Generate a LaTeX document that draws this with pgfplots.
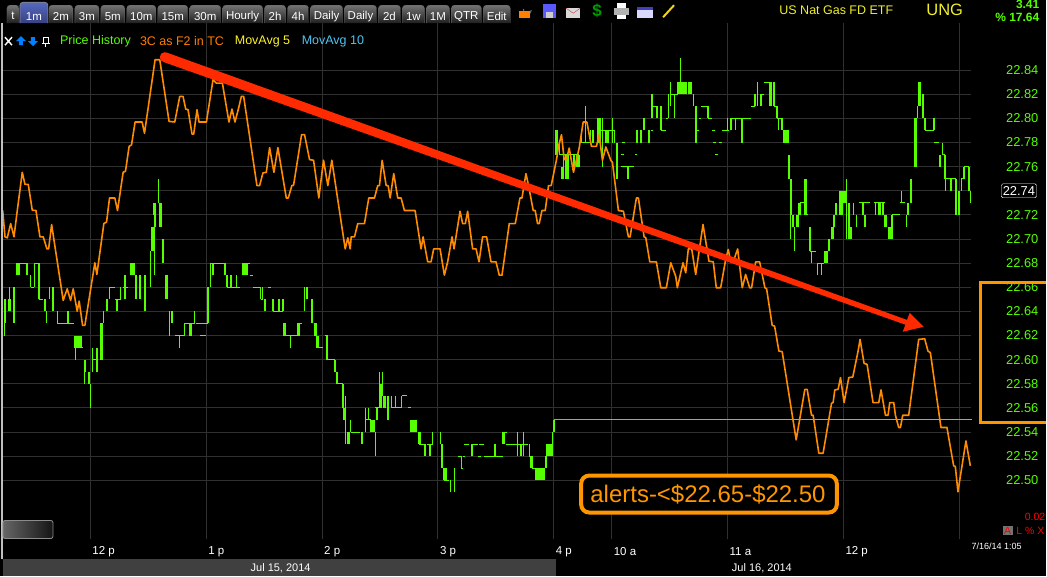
\documentclass[border=0pt]{standalone}
\usepackage{pgfplots}
\usepackage{pgfplotstable}
\usepackage{fontspec}
\setmainfont{Liberation Sans}
\pgfplotsset{compat=1.18}
\definecolor{pgreen}{RGB}{85,255,0}
\definecolor{porange}{RGB}{255,140,0}
\definecolor{boxorange}{RGB}{255,150,0}
\definecolor{pred}{RGB}{255,42,0}
\definecolor{pteal}{RGB}{60,205,210}
\definecolor{gridc}{RGB}{48,48,48}
\definecolor{pyellow}{RGB}{240,240,40}
\newcommand{\fs}[1]{\fontsize{#1}{#1}\selectfont}
\pgfplotstableread{
x v
2.7 22.7236
5 22.7018
7.3 22.7010
10.7 22.7128
14 22.7018
17.3 22.7236
22.3 22.7553
25 22.7453
28.3 22.7453
32.3 22.7239
36 22.7236
40 22.7018
43.3 22.7018
47 22.6918
48.7 22.6918
51.7 22.7120
55 22.694
63.3 22.6491
67.3 22.6587
70.7 22.6491
73.3 22.6587
77.3 22.6402
79.3 22.6485
82.7 22.6284
85 22.6284
95 22.6803
97 22.6706
104 22.7128
106.7 22.7140
109.7 22.734
115 22.734
117.7 22.7236
123.3 22.7553
125.7 22.7563
129.3 22.7768
131.7 22.778
135.3 22.797
142.3 22.797
144.7 22.7877
155.3 22.8486
160 22.8486
169.3 22.7975
175 22.797
180 22.8182
183.3 22.8182
186 22.8077
188.3 22.8072
192.3 22.787
194 22.787
197.3 22.8072
199.3 22.797
206.7 22.797
213.3 22.832
216.7 22.8292
222.7 22.8292
229.3 22.797
232.3 22.8077
235.3 22.797
238.7 22.8077
241.7 22.8182
244 22.8182
257.3 22.7443
260 22.7443
263.3 22.7548
266.7 22.7553
270 22.7758
274.3 22.7553
278.3 22.7758
286.7 22.734
288.7 22.734
292.3 22.7443
294 22.7446
302 22.7865
305 22.7865
310 22.7658
314 22.7653
319.3 22.734
324 22.7653
328.3 22.7443
332.3 22.7653
345.7 22.6918
348.3 22.701
350.7 22.6918
351.7 22.7018
355 22.7018
358.3 22.7128
365 22.7128
369.3 22.734
375 22.734
378.3 22.7443
380 22.7443
382.7 22.7652
386.7 22.7443
388.7 22.7443
390.7 22.734
394.3 22.7542
398.3 22.734
401.7 22.734
405 22.7236
415.7 22.7236
421.7 22.6918
423.7 22.7018
428.3 22.6811
431.7 22.6811
434.3 22.6918
440.7 22.6918
445 22.67
448.3 22.6811
452.7 22.7018
454.7 22.6918
460.7 22.723
463.3 22.7128
466 22.7128
468.3 22.723
473.3 22.6918
476.7 22.6918
479.7 22.6811
483.3 22.7018
487.3 22.7018
491.7 22.6811
496.7 22.6811
500 22.67
502.7 22.67
510 22.7128
516 22.7128
520.7 22.734
522.7 22.734
526.7 22.7542
529.3 22.7443
534 22.7236
536 22.7236
538.3 22.7128
540 22.7128
542.7 22.7236
546 22.7236
549.3 22.7443
552 22.7443
557.3 22.7658
559.3 22.7768
562.3 22.7865
565 22.7658
567.3 22.7658
570 22.7754
574.3 22.7553
580 22.7754
584 22.797
587.7 22.797
592.3 22.7768
597.3 22.7768
600 22.7865
603.3 22.7652
606.7 22.7763
611.7 22.7652
613.3 22.7636
619.3 22.7236
624.3 22.723
629.3 22.7018
631 22.7018
637.3 22.734
639.3 22.734
645 22.7018
646.7 22.701
650.7 22.6811
657.3 22.6811
661.7 22.6596
667.3 22.6596
671.7 22.6803
676.7 22.669
678.3 22.6596
684 22.6803
686.7 22.672
689.3 22.6918
692.7 22.6918
696.7 22.6706
704 22.712
710 22.6816
714.3 22.6811
717.3 22.6596
721.7 22.6596
726.7 22.683
729.3 22.6913
731.7 22.6811
735 22.683
738.7 22.6918
743.3 22.6596
746.7 22.6706
750.7 22.6596
752.7 22.6596
756.7 22.6811
760.7 22.6811
766 22.6596
767.7 22.6587
773.3 22.6284
775.7 22.6278
780 22.6071
783.3 22.6066
797.3 22.5335
806 22.5754
808.3 22.5754
812.7 22.5539
814.3 22.5539
820 22.5224
824.3 22.5224
832.7 22.5638
834.3 22.5644
836 22.5749
839.3 22.5754
841.7 22.5851
845.3 22.5644
850 22.5851
854 22.5856
859.3 22.6071
861.3 22.6168
865.3 22.5969
868.3 22.5961
874.3 22.5644
880 22.5644
882.3 22.5749
886.7 22.5539
889.3 22.5539
891 22.5644
895 22.5644
896.7 22.5539
900 22.5437
901.7 22.5437
904 22.5539
910 22.5539
920 22.6168
926 22.6173
929.3 22.6071
931.7 22.6058
942.3 22.5437
948.3 22.5437
955 22.512
956.7 22.5114
959.3 22.4904
967.3 22.5326
971.7 22.512
}\orangeT
\pgfplotstableread{
x lo hi
5 22.62 22.65
9.5 22.64 22.66
30.7 22.66 22.67
34.3 22.66 22.68
46.7 22.63 22.64
49.3 22.65 22.66
57.3 22.63 22.64
75.7 22.60 22.61
85 22.58 22.59
90.3 22.56 22.58
92.7 22.59 22.61
104 22.63 22.64
109.3 22.65 22.66
120.7 22.65 22.66
150.7 22.66 22.69
154.3 22.67 22.73
158.3 22.73 22.75
169.3 22.62 22.64
179.3 22.61 22.62
184.3 22.62 22.63
195 22.63 22.64
210.7 22.66 22.68
237.3 22.66 22.67
261 22.65 22.66
262.7 22.65 22.66
290.7 22.61 22.62
305 22.64 22.66
345.7 22.53 22.57
351 22.54 22.55
366 22.54 22.56
369.3 22.55 22.56
375.7 22.52 22.54
380 22.56 22.59
382.7 22.57 22.59
391.7 22.56 22.57
396 22.56 22.57
402.3 22.56 22.57
433.3 22.53 22.54
441 22.53 22.54
450.7 22.49 22.50
455 22.49 22.51
461.7 22.51 22.52
518.3 22.52 22.54
524 22.52 22.54
530 22.52 22.53
553.3 22.52 22.54
560 22.77 22.78
564.5 22.75 22.77
582.7 22.78 22.79
586.7 22.78 22.81
591.7 22.78 22.79
603.3 22.76 22.80
613.3 22.78 22.80
615.3 22.78 22.79
669.3 22.80 22.82
671.7 22.81 22.83
675 22.80 22.82
681.3 22.83 22.85
694 22.81 22.82
729 22.79 22.80
736.7 22.79 22.80
758.7 22.81 22.83
780 22.79 22.80
791.7 22.70 22.72
795.7 22.69 22.71
812.3 22.68 22.69
818.3 22.67 22.68
822.3 22.67 22.68
847.3 22.70 22.75
854.7 22.72 22.73
857.7 22.71 22.72
876.7 22.72 22.73
881.7 22.72 22.73
902.7 22.73 22.74
907.3 22.71 22.72
918.7 22.80 22.81
920 22.81 22.83
943.7 22.77 22.78
946.7 22.74 22.75
962.7 22.74 22.75
971.7 22.73 22.74
}\greenThin
\pgfplotstableread{
x lo hi
5 22.63 22.65
9.5 22.64 22.65
14 22.63 22.66
17 22.67 22.68
19 22.67 22.68
27 22.67 22.68
38.7 22.65 22.68
45 22.64 22.65
53.3 22.64 22.66
68.3 22.63 22.64
75.5 22.61 22.62
77.5 22.61 22.62
79.5 22.61 22.62
81.5 22.61 22.62
85 22.59 22.60
89.3 22.58 22.59
97.3 22.59 22.61
101.7 22.60 22.63
107.3 22.64 22.65
117.3 22.64 22.65
125.3 22.65 22.67
131.7 22.67 22.68
134.3 22.67 22.68
136 22.65 22.67
140 22.65 22.67
145 22.64 22.67
152.7 22.69 22.71
155 22.71 22.72
154.7 22.72 22.73
160.7 22.71 22.73
163.3 22.68 22.70
166.7 22.65 22.67
172 22.63 22.64
190.7 22.62 22.63
208.3 22.63 22.66
213.3 22.67 22.68
225.3 22.67 22.68
227.3 22.66 22.67
231.7 22.66 22.67
243.3 22.67 22.68
245.3 22.67 22.68
247.3 22.67 22.68
265.7 22.64 22.65
273.3 22.64 22.65
279.3 22.64 22.65
283.3 22.64 22.65
285 22.62 22.63
299 22.62 22.63
307.3 22.65 22.66
312.3 22.63 22.65
316 22.62 22.63
318 22.61 22.62
327.3 22.60 22.62
335.3 22.59 22.60
337.3 22.58 22.59
343.3 22.56 22.58
345 22.55 22.56
349 22.53 22.54
362.3 22.53 22.54
372 22.54 22.55
374 22.54 22.55
377.3 22.55 22.56
381 22.56 22.58
385 22.56 22.57
388.3 22.55 22.57
412 22.54 22.55
414 22.54 22.55
416 22.54 22.55
420 22.53 22.54
425.7 22.52 22.53
430.7 22.52 22.53
442.7 22.51 22.53
445 22.50 22.51
447 22.50 22.51
472.7 22.52 22.53
495.7 22.52 22.53
504.3 22.53 22.54
521.7 22.52 22.53
532.3 22.51 22.52
537 22.50 22.51
539 22.50 22.51
541 22.50 22.51
543 22.50 22.51
545 22.50 22.51
546.7 22.51 22.52
548 22.52 22.53
550 22.52 22.53
551.7 22.52 22.53
555 22.54 22.55
557.3 22.77 22.79
563.3 22.75 22.76
567.3 22.75 22.77
569 22.75 22.77
575 22.76 22.77
578 22.76 22.77
580 22.76 22.77
594 22.78 22.79
599.3 22.78 22.80
601 22.78 22.80
606.7 22.78 22.79
608.5 22.78 22.79
618 22.75 22.78
629 22.75 22.76
637.7 22.78 22.79
641.7 22.78 22.79
645 22.79 22.80
650 22.78 22.79
652.7 22.80 22.82
658.3 22.80 22.81
661.7 22.79 22.81
679 22.82 22.83
681 22.82 22.83
683 22.82 22.83
685 22.82 22.83
687 22.82 22.83
690 22.82 22.83
692 22.82 22.83
696.7 22.78 22.81
709 22.80 22.81
731.7 22.79 22.80
743.3 22.78 22.80
756 22.81 22.82
762 22.81 22.82
770.7 22.81 22.83
772 22.81 22.83
775 22.81 22.83
778.3 22.80 22.81
783.3 22.79 22.80
785.3 22.78 22.79
787 22.78 22.79
789 22.78 22.79
790 22.75 22.77
792 22.72 22.75
794 22.71 22.72
798.7 22.71 22.72
800.7 22.72 22.73
806 22.72 22.75
807.5 22.72 22.75
811 22.69 22.71
826.7 22.68 22.69
828 22.68 22.69
830 22.69 22.70
833.7 22.70 22.71
835.3 22.71 22.72
837.3 22.72 22.73
841 22.72 22.74
843.3 22.72 22.74
845.7 22.73 22.74
850 22.70 22.73
852 22.70 22.71
864 22.72 22.73
866 22.71 22.72
880 22.72 22.73
884 22.72 22.73
886.7 22.71 22.72
890 22.70 22.71
892 22.70 22.71
893.3 22.70 22.72
909.3 22.72 22.73
912.3 22.73 22.75
916.7 22.76 22.80
921.7 22.81 22.83
924.3 22.80 22.82
926.7 22.79 22.80
935 22.79 22.80
941 22.76 22.77
946.7 22.75 22.77
952.7 22.74 22.75
957.7 22.72 22.75
960.7 22.72 22.74
965 22.75 22.76
970.7 22.74 22.76
}\greenThick
\pgfplotstableread{
x p w
30.7 22.66 3.6
16.7 22.68 11.6
34.3 22.68 5.7
38.7 22.65 4.6
57.3 22.63 16.7
75 22.61 8
92.7 22.60 4.6
109.3 22.66 5.7
115 22.65 5.7
123.3 22.66 4.4
130.7 22.68 3.6
175 22.62 9.3
184.3 22.63 10.7
196.7 22.63 11.3
200 22.62 6
210.7 22.68 14.6
227.3 22.66 13.4
243 22.68 7
250 22.67 3
253.3 22.66 6.7
261 22.65 2
268.3 22.66 3.4
273 22.64 10
285 22.62 14
299 22.63 3
317.7 22.61 5.6
325 22.62 3
327.3 22.60 7.7
338 22.58 5
351 22.54 9.7
366 22.55 6
375.7 22.56 4.3
391.7 22.56 10
402.3 22.57 5
408.3 22.56 3.4
420 22.53 5.7
428 22.53 5.3
445 22.50 5
461.7 22.51 1.6
458.3 22.52 3.4
463.3 22.52 2.7
465 22.53 5
473.3 22.53 5
480 22.53 5
478.3 22.52 3.4
485 22.52 18.3
504.3 22.54 3.4
506.7 22.53 21.6
530 22.52 2.3
532.3 22.51 4.7
560 22.77 20
582.7 22.78 9
601.7 22.79 13.6
621.7 22.76 13.3
623 22.78 3
622 22.77 3
636 22.77 2
651.7 22.79 2.3
652.7 22.81 5.6
661.7 22.79 5
666.7 22.80 2.6
671.7 22.82 7.3
698.3 22.79 1.7
700 22.80 2
701.7 22.81 8.3
709 22.80 4.3
713.3 22.79 2.7
723.3 22.79 6.7
714.3 22.78 3
719.7 22.78 3
716 22.77 3
731.7 22.80 20
751.7 22.81 4.3
762 22.82 3
765 22.83 5.7
775 22.81 3.3
778.3 22.80 5
800.7 22.73 4.3
806.7 22.72 2.6
811 22.69 6.3
818.3 22.68 6.7
893.3 22.72 8.4
901.7 22.73 5
915 22.76 2.3
926.7 22.79 8.3
935 22.78 5
943.7 22.77 3
965 22.76 5
860.3 22.73 11.4
875 22.73 11.7
952.7 22.75 5
946.7 22.75 6
962.7 22.75 2.3
}\greenH
\pgfplotstableread{
x v
555 22.55
973 22.55
}\tealT
\begin{document}
\begin{tikzpicture}
\fill[black] (0,0) rectangle (1047pt,577pt);
\fill[black!75!white] (3pt,0) rectangle (557pt,17pt);
\begin{axis}[
  at={(3pt,37pt)}, anchor=south west,
  scale only axis, width=969pt, height=517pt,
  xmin=3, xmax=972, ymin=22.4509, ymax=22.8789,
  axis line style={draw=none},
  major tick length=0pt,
  tick style={draw=none},
  grid=major, grid style={draw=gridc, line width=0.8pt},
  xtick={90.4,206.5,322.5,438.5,554.5,612.5,728.5,844.5,960.5},
  xticklabels={12 p,1 p,2 p,3 p,4 p,10 a,11 a,12 p,{}},
  xticklabel style={white, font=\fs{11.5}, anchor=west, yshift=-12pt, inner xsep=2pt},
  ytick={22.50,22.52,22.54,22.56,22.58,22.60,22.62,22.64,22.66,22.68,22.70,22.72,22.76,22.78,22.80,22.82,22.84},
  extra y ticks={22.74},
  extra y tick style={yticklabel style={text=white, draw=white, fill=black, rounded corners=1.5pt, inner xsep=1.5pt, inner ysep=2.5pt, xshift=-1.5pt}},
  yticklabel pos=right,
  yticklabel style={text=pgreen, font=\fs{12.9}, anchor=west, xshift=32pt},
  /pgf/number format/.cd, fixed, fixed zerofill, precision=2, assume math mode=true,
  /pgfplots/.cd,
  clip=false,
]
\addplot[pteal, line width=1pt] table[x=x,y=v] {\tealT};
\addplot[only marks, mark=none, mark size=0pt, forget plot, error bars/.cd, y dir=plus, y explicit, error mark=none, error bar style={draw=pgreen, line width=1pt}]
  table[x=x, y=lo, y error expr=\thisrow{hi}-\thisrow{lo}] {\greenThin};
\addplot[only marks, mark=none, mark size=0pt, forget plot, error bars/.cd, y dir=plus, y explicit, error mark=none, error bar style={draw=pgreen, line width=2.2pt}]
  table[x=x, y=lo, y error expr=\thisrow{hi}-\thisrow{lo}] {\greenThick};
\addplot[only marks, mark=none, mark size=0pt, forget plot, error bars/.cd, x dir=plus, x explicit, error mark=none, error bar style={draw=pgreen, line width=1pt}]
  table[x=x, y=p, x error=w] {\greenH};
\addplot[porange, line width=1.6pt, line join=round] table[x=x,y=v] {\orangeT};
\end{axis}
\begin{scope}[x=1pt,y=-1pt,yshift=577pt]
  % left edge
  \draw[white!75!black, line width=1.2pt] (2,23) -- (2,560);
  % red arrow
  \fill[pred] (166.7,52.3) -- (908.3,320.1) -- (911,313) -- (925,327) -- (904,332) -- (906.7,324.9) -- (163.3,61.7) -- cycle;
  \fill[pred] (165,57) circle (5);
  % orange boxes
  \draw[boxorange, line width=3pt] (1047,282.5) -- (981.5,282.5) -- (981.5,423) -- (1047,423);
  \draw[boxorange, line width=4pt, rounded corners=8pt, fill=black] (582,476) rectangle (838,513);
  \node[text=boxorange, font=\fs{24}, anchor=center] at (709,494.5) {alerts-<\$22.65-\$22.50};
  % toolbar tabs
  \foreach \a/\b/\t in {7/19/t,49/73/2m,75/99/3m,101/125/5m,127/156/10m,158/188/15m,190/221/30m,223/263/Hourly,265/286/2h,288/309/4h,311/343/Daily,345/377/Daily,379/401/2d,403/425/1w,427/450/1M,452/482/QTR,484/511/Edit}{
    \path[rounded corners=3pt, top color=black!55!white, bottom color=black!88!white, draw=black!60!white, line width=0.3pt]
      (\a,23) -- (\a,5) -- (\b,5) -- (\b,23);
    \node[white, font=\fs{11.5}] at ({(\a+\b)/2},16) {\t};
  }
  \path[rounded corners=3pt, top color={rgb,255:red,85;green,105;blue,190}, bottom color={rgb,255:red,55;green,65;blue,130}, draw=black!45!white, line width=0.6pt]
    (20,23) -- (20,2) -- (48,2) -- (48,23);
  \node[white, font=\fs{11.5}] at (34,16) {1m};
  % icons
  \draw[black!60!white, line width=1.2pt] (532,10) arc (0:200:4);
  \fill[orange] (520,11) rectangle (531,18);
  \fill[blue!65!white] (544,4) rectangle (557,18);
  \fill[white!80!black] (547,12) rectangle (554,18);
  \fill[white!85!black] (567,8) rectangle (581,18);
  \draw[red!50!gray, line width=0.4pt] (567,8) -- (574,13) -- (581,8);
  \node[text=green!60!black, font=\fs{17}\bfseries] at (598,11) {\$};
  \fill[white!70!black] (615,8) rectangle (630,15);
  \fill[white] (618,3) rectangle (627,8);
  \fill[white] (618,15) rectangle (627,19);
  \fill[white!85!blue] (638,7) rectangle (654,18);
  \fill[blue!50!gray] (638,7) rectangle (654,10);
  \draw[yellow!70!brown, line width=2pt] (664,17) -- (675,5);
  % titles
  \node[text=pyellow, font=\fs{12.5}] at (837.5,10) {US Nat Gas FD ETF};
  \node[text=pyellow, font=\fs{16.5}] at (946,10) {UNG};
  \node[text=pgreen, font=\fs{12}\bfseries, anchor=east, inner sep=0pt] at (1041,4) {3.41};
  \node[text=pgreen, font=\fs{12}\bfseries, anchor=east, inner sep=0pt] at (1041,17) {\% 17.64};
  % legend row
  \draw[white, line width=1.4pt] (5,37) -- (12,45) (12,37) -- (5,45);
  \fill[blue!50!cyan] (21,36) -- (26,41) -- (23,41) -- (23,45) -- (19,45) -- (19,41) -- (16,41) -- cycle;
  \fill[blue!50!cyan] (33,46) -- (38,41) -- (35,41) -- (35,37) -- (31,37) -- (31,41) -- (28,41) -- cycle;
  \draw[white, line width=1pt] (42,43) -- (50,43) (46,43) -- (46,47) (43.5,37) rectangle (48.5,43);
  \node[text=pgreen, font=\fs{12.5}, anchor=west, inner sep=0pt] at (60,41) {Price History};
  \node[text=porange!90!red, font=\fs{12.5}, anchor=west, inner sep=0pt] at (140,41) {3C as F2 in TC};
  \node[text=yellow!85!white, font=\fs{12.5}, anchor=west, inner sep=0pt] at (235,41) {MovAvg 5};
  \node[text=cyan!70!white, font=\fs{12.5}, anchor=west, inner sep=0pt] at (302,41) {MovAvg 10};
  % bottom widgets
  \path[rounded corners=2pt, left color=black!60!white, right color=black!92!white, draw=black!45!white, line width=0.8pt] (3,521) rectangle (53,539);
  \node[white, font=\fs{11}] at (281,569) {Jul 15, 2014};
  \node[white, font=\fs{11}] at (763,569) {Jul 16, 2014};
  \node[white, font=\fs{9}] at (998,547) {7/16/14 1:05};
  \node[red, font=\fs{10.5}, anchor=east, inner sep=0pt] at (1047,517) {0.02};
  \fill[black!55!white] (1004,526) rectangle (1014,536);
  \node[red, font=\fs{10.5}, inner sep=0pt] at (1009,531) {A};
  \node[red, font=\fs{10.5}, anchor=east, inner sep=0pt] at (1046,531) {L \% X};
\end{scope}
\end{tikzpicture}
\end{document}
